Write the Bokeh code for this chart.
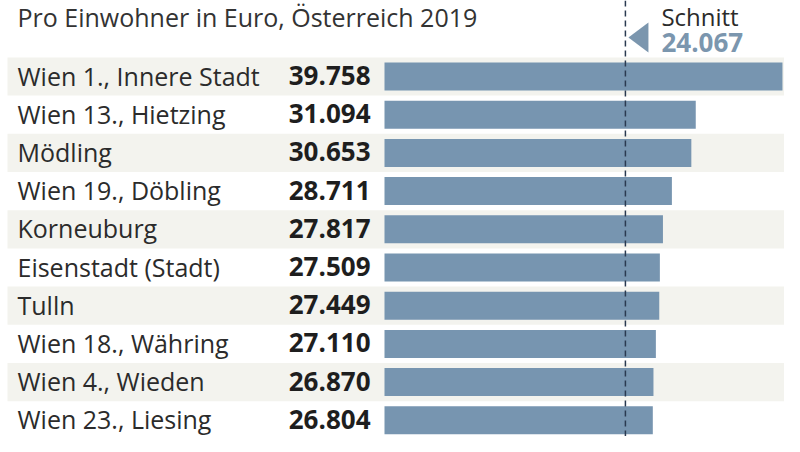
from bokeh.plotting import figure
from bokeh.models import Range1d, ColumnDataSource, Span
from bokeh.core.properties import value
from bokeh.embed import file_html
from bokeh.resources import INLINE

# ---- data ----
districts = ["Wien 1., Innere Stadt", "Wien 13., Hietzing", "Mödling", "Wien 19., Döbling",
             "Korneuburg", "Eisenstadt (Stadt)", "Tulln", "Wien 18., Währing",
             "Wien 4., Wieden", "Wien 23., Liesing"]
income = [39758, 31094, 30653, 28711, 27817, 27509, 27449, 27110, 26870, 26804]
average = 24067
title_text = "Pro Einwohner in Euro, Österreich 2019"
avg_label = "Schnitt"

def fmt(v):
    return f"{v:,}".replace(",", ".")

# ---- geometry helpers (screen px -> data) ----
W, H = 784, 436
SCALE = 0.01001          # px per euro
X0 = 384                 # px of value 0
PITCH = 38.2
ROW0 = 76                # px of first row centre
TB = -8.5                # correction for rendered text baseline

def xd(px):
    return (px - X0) / SCALE

def yd(px):
    return (px - ROW0) / PITCH

FONT = "Open Sans"
BAR = "#7795b0"
BAND = "#f3f3ee"
TXT = "#2b2b2b"

p = figure(width=W, height=H, output_backend="svg", toolbar_location=None,
           x_range=Range1d(xd(0), xd(W)), y_range=Range1d(yd(H), yd(0)),
           x_axis_location=None, y_axis_location=None, min_border=0,
           outline_line_color=None, background_fill_color="white",
           border_fill_color="white")
p.grid.visible = False

idx = list(range(len(districts)))
band_idx = [i for i in idx if i % 2 == 0]
p.rect(x=(xd(7) + xd(794)) / 2, y=band_idx, width=xd(794) - xd(7), height=1.0,
       fill_color=BAND, line_color=None)

src = ColumnDataSource(dict(y=idx, v=income, name=districts,
                            lab=[fmt(v) for v in income],
                            ty=[i + (7.5 + TB) / PITCH for i in idx]))
p.hbar(y="y", left=0, right="v", height=28 / PITCH, fill_color=BAR,
       line_color=None, source=src)

p.text(x=xd(17), y="ty", text="name", source=src, text_font=value(FONT),
       text_font_size="25px", text_color=TXT, text_baseline="alphabetic",
       text_align="left")
p.text(x=xd(370), y="ty", text="lab", source=src, text_font=value(FONT),
       text_font_size="26px", text_font_style="bold", text_color="#1e1e1e",
       text_baseline="alphabetic", text_align="right")

# average line
p.add_layout(Span(location=average, dimension="height", line_color="#2a3a50",
                  line_width=1.5, line_dash="6 4"))

# marker triangle pointing to the average
tip = average + 3 / SCALE
p.patch(x=[tip, tip + 20 / SCALE, tip + 20 / SCALE],
        y=[yd(37), yd(22), yd(52)], fill_color="#7b96ae", line_color=None)

p.text(x=[average + 36 / SCALE], y=[yd(24 + TB)], text=[avg_label], text_font=value(FONT),
       text_font_size="24px", text_color=TXT, text_baseline="alphabetic")
p.text(x=[average + 36 / SCALE], y=[yd(50 + TB)], text=[fmt(average)], text_font=value(FONT),
       text_font_size="26px", text_font_style="bold", text_color="#7b96ae",
       text_baseline="alphabetic")

p.text(x=[xd(17)], y=[yd(25 + TB)], text=[title_text], text_font=value(FONT),
       text_font_size="25px", text_color="#333333", text_baseline="alphabetic")

open("out.html", "w").write(file_html(p, INLINE))
